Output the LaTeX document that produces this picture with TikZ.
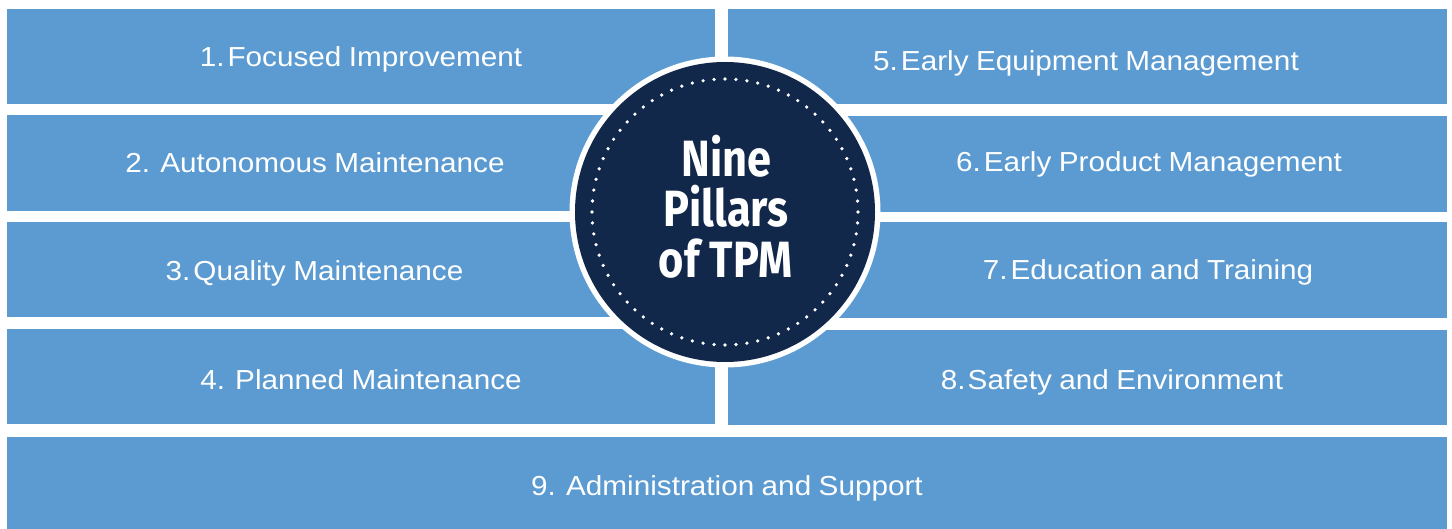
\documentclass[tikz,border=0pt]{standalone}
\usepackage{fontspec}
\setmainfont{Liberation Sans}
\newfontfamily\boxfont[FakeStretch=1.08,WordSpace=0.9]{Liberation Sans}
\newfontfamily\titlefont[FakeStretch=0.85]{Fira Sans}
\definecolor{pillar}{RGB}{91,155,209}
\definecolor{navy}{RGB}{18,40,75}
\begin{document}
\begin{tikzpicture}[x=1pt,y=-1pt,
  pillarbox/.style={rectangle, fill=pillar, draw=none, inner sep=0pt, outer sep=0pt},
  leftbox/.style={pillarbox, minimum width=708pt, minimum height=95pt},
  rightbox/.style={pillarbox, minimum width=719pt, minimum height=95pt},
  lbl/.style={text=white, font=\boxfont\fontsize{27.5}{30}\selectfont, anchor=base, inner sep=0pt},
  ttl/.style={text=white, font=\titlefont\bfseries\fontsize{51}{50}\selectfont, anchor=base, inner sep=0pt}]
\useasboundingbox (0,0) rectangle (1452,529);
\fill[white] (0,0) rectangle (1452,529);
% left column
\node[leftbox] (b1) at (361,56.5) {};
\node[leftbox, minimum height=96pt] (b2) at (361,163) {};
\node[leftbox] (b3) at (361,269.5) {};
\node[leftbox] (b4) at (361,376.5) {};
% right column
\node[rightbox] (b5) at (1087.5,56.5) {};
\node[rightbox, minimum height=96pt] (b6) at (1087.5,164) {};
\node[rightbox, minimum height=96pt] (b7) at (1087.5,270) {};
\node[rightbox] (b8) at (1087.5,377.5) {};
% bottom
\node[pillarbox, minimum width=1440pt, minimum height=92pt] (b9) at (727,483) {};
% labels
\node[lbl] (l1) at (361,67) {1.\hspace{3pt}Focused Improvement};
\node[lbl] (l2) at (315,173) {2. Autonomous Maintenance};
\node[lbl] (l3) at (314.5,281) {3.\hspace{3pt}Quality Maintenance};
\node[lbl] (l4) at (361,390) {4. Planned Maintenance};
\node[lbl] (l5) at (1086,71) {5.\hspace{3pt}Early Equipment Management};
\node[lbl] (l6) at (1149,172) {6.\hspace{3pt}Early Product Management};
\node[lbl] (l7) at (1148,280) {7.\hspace{3pt}Education and Training};
\node[lbl] (l8) at (1112,389) {8.\hspace{2pt}Safety and Environment};
\node[lbl] (l9) at (727,495) {9. Administration and Support};
% hub
\node[circle, fill=white, minimum size=311pt, inner sep=0pt] (ring) at (725,212) {};
\node[circle, fill=navy, minimum size=300pt, inner sep=0pt] (hub) at (725,212) {};
\foreach \i [evaluate=\i as \a using \i*4.736842] in {0,...,75}
  \fill[white] ({725+133*cos(\a)},{212+133*sin(\a)}) circle[radius=1.8pt];
\node[ttl] (t1) at (726.5,177) {Nine};
\node[ttl] (t2) at (726,227) {Pillars};
\node[ttl] (t3) at (725.5,278) {of TPM};
\end{tikzpicture}
\end{document}
